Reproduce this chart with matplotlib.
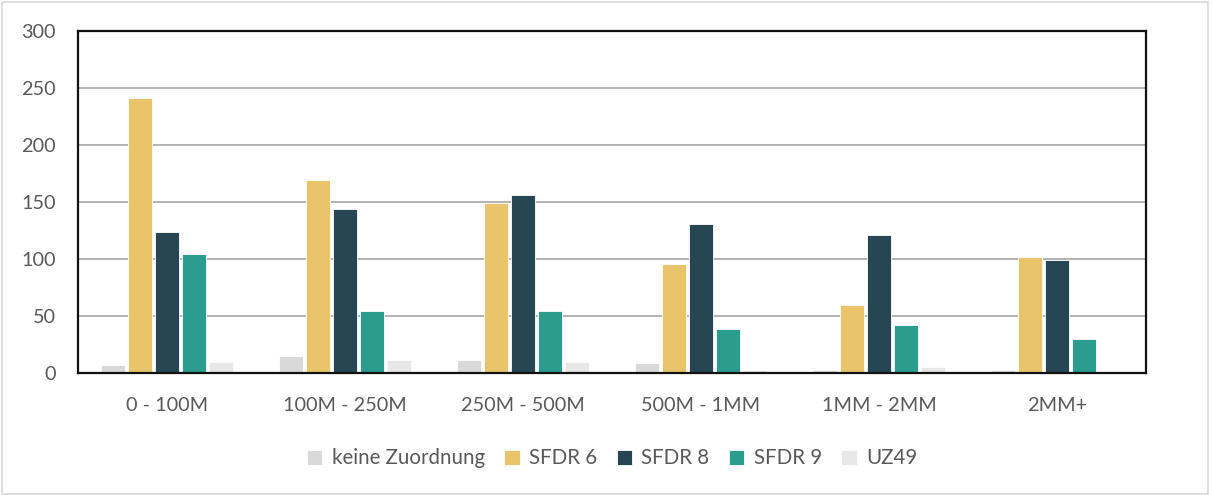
import numpy as np
import matplotlib.pyplot as plt
from matplotlib.patches import Rectangle

# Daten
kategorien = ['0 - 100M', '100M - 250M', '250M - 500M', '500M - 1MM', '1MM - 2MM', '2MM+']
keine_zuordnung = [7, 15, 11, 9, 3, 3]
sfdr6 = [241, 169, 149, 96, 60, 102]
sfdr8 = [124, 144, 156, 131, 121, 99]
sfdr9 = [104, 54, 54, 39, 42, 30]
uz49 = [10, 11, 10, 3, 5, 0]

serien = ['keine Zuordnung', 'SFDR 6', 'SFDR 8', 'SFDR 9', 'UZ49']
werte = [keine_zuordnung, sfdr6, sfdr8, sfdr9, uz49]
farben = ['#D9D9D9', '#E9C46A', '#264653', '#2A9D8F', '#E7E7E7']

plt.rcParams['font.family'] = ['Lato', 'DejaVu Sans']
textfarbe = '#595959'

fig = plt.figure(figsize=(12.12, 4.95), dpi=100)
ax = fig.add_axes([0.0644, 0.2465, 0.881, 0.691])

x = np.arange(len(kategorien))
schritt = 0.152
breite = 0.135
for i, (name, w, f) in enumerate(zip(serien, werte, farben)):
    ax.bar(x + (i - 2) * schritt, w, breite, color=f, label=name,
           edgecolor='white', linewidth=0.6, zorder=3)

ax.set_xlim(-0.5, len(kategorien) - 0.5)
ax.set_ylim(0, 300)
ax.set_yticks(range(0, 301, 50))
ax.set_xticks(x)
ax.set_xticklabels(kategorien)
ax.grid(axis='y', color='#A6A6A6', linewidth=1.2, zorder=0)
ax.tick_params(length=0, labelsize=14.3, colors=textfarbe)
ax.tick_params(axis='x', pad=17)
ax.tick_params(axis='y', pad=16)
for s in ax.spines.values():
    s.set_color('#111111')
    s.set_linewidth(1.6)
    s.set_zorder(4)

leg = fig.legend(loc='center', bbox_to_anchor=(0.505, 0.074), ncol=5, frameon=False,
                 fontsize=14.8, handlelength=0.75, handleheight=0.75, handletextpad=0.45,
                 columnspacing=0.95)
for t in leg.get_texts():
    t.set_color(textfarbe)

# Rahmen um das Diagramm
fig.patches.append(Rectangle((0.002, 0.003), 0.995, 0.993, transform=fig.transFigure,
                             fill=False, edgecolor='#D9D9D9', linewidth=1.2))

plt.savefig('out.png', dpi=100)
